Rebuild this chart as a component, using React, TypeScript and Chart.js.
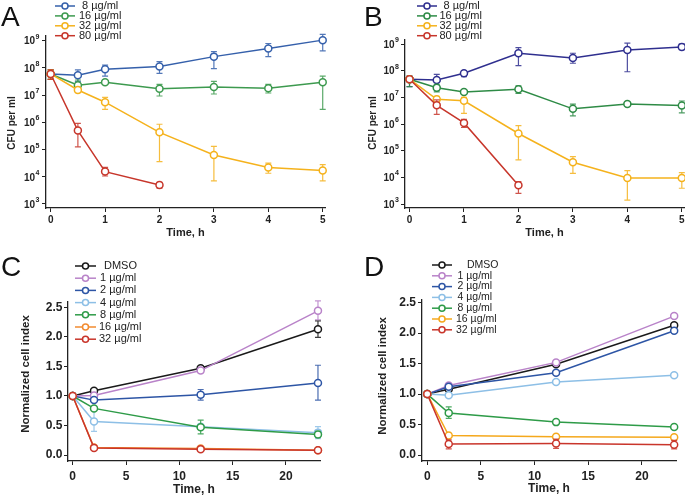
import React, { useEffect, useRef } from 'react';
import { Chart, registerables } from 'chart.js';
Chart.register(...registerables);

const FONT = "'Liberation Sans', Arial, sans-serif";
const INK = '#222';

// ---------- Panel A (CFU per ml, log) ----------
const hoursAB = [0, 0.5, 1, 2, 3, 4, 5];
const hoursRed = [0, 0.5, 1, 2];
const labelsAB = ['8 µg/ml', '16 µg/ml', '32 µg/ml', '80 µg/ml'];
const logTicks = [1e3, 1e4, 1e5, 1e6, 1e7, 1e8, 1e9];
const hourTicksAB = [0, 1, 2, 3, 4, 5];

const A_8 = [6.0e7, 5.4e7, 8.9e7, 1.12e8, 2.6e8, 5.2e8, 1.05e9];
const A_8_hi = [8.5e7, 8.5e7, 1.26e8, 1.7e8, 4.0e8, 7.9e8, 1.7e9];
const A_8_lo = [3.8e7, 3.2e7, 5.0e7, 6.3e7, 9.5e7, 2.6e8, 4.2e8];
const A_16 = [6.0e7, 2.3e7, 3.0e7, 1.7e7, 2.0e7, 1.8e7, 3.0e7];
const A_16_hi = [8.5e7, 3.6e7, 3.3e7, 2.5e7, 3.2e7, 2.5e7, 5.0e7];
const A_16_lo = [3.8e7, 1.5e7, 2.7e7, 9.3e6, 1.1e7, 1.2e7, 3.0e6];
const A_32 = [6.0e7, 1.55e7, 5.5e6, 4.3e5, 6.3e4, 2.2e4, 1.7e4];
const A_32_hi = [8.5e7, 1.95e7, 8.3e6, 8.5e5, 1.3e5, 3.2e4, 2.8e4];
const A_32_lo = [3.8e7, 1.23e7, 3.0e6, 3.6e4, 7.1e3, 1.35e4, 7.1e3];
const A_80 = [6.0e7, 5.0e5, 1.55e4, 5.0e3];
const A_80_hi = [8.5e7, 9.1e5, 2.2e4, 6.2e3];
const A_80_lo = [3.8e7, 1.26e5, 1.07e4, 3.8e3];

// ---------- Panel B (CFU per ml, log) ----------
const B_8 = [4.8e7, 4.5e7, 8.0e7, 4.5e8, 3.0e8, 6.0e8, 7.8e8];
const B_8_hi = [6.3e7, 7.3e7, 1.0e8, 7.3e8, 4.5e8, 1.07e9, 1.0e9];
const B_8_lo = [2.5e7, 2.6e7, 6.0e7, 1.55e8, 1.9e8, 9.1e7, 6.2e8];
const B_16 = [4.8e7, 2.3e7, 1.6e7, 2.0e7, 3.7e6, 5.6e6, 4.9e6];
const B_16_hi = [6.3e7, 3.1e7, 1.8e7, 2.7e7, 5.6e6, 6.5e6, 7.3e6];
const B_16_lo = [2.5e7, 1.6e7, 1.4e7, 1.4e7, 2.0e6, 4.8e6, 2.6e6];
const B_32 = [4.8e7, 8.4e6, 7.4e6, 4.4e5, 3.7e4, 9.5e3, 9.5e3];
const B_32_hi = [6.0e7, 1.1e7, 1.0e7, 8.7e5, 6.0e4, 1.8e4, 1.5e4];
const B_32_lo = [4.0e7, 6.7e6, 2.5e6, 4.5e4, 1.4e4, 1.4e3, 3.9e3];
const B_80 = [4.8e7, 5.0e6, 1.1e6, 5.0e3];
const B_80_hi = [6.0e7, 8.0e6, 1.5e6, 6.9e3];
const B_80_lo = [4.0e7, 2.3e6, 7.4e5, 2.5e3];

// ---------- Panels C and D (normalized cell index) ----------
const hoursCD = [0, 2, 12, 23];
const hourTicksCD = [0, 5, 10, 15, 20];
const indexTicks = [0, 0.5, 1.0, 1.5, 2.0, 2.5];
const labelsCD = ['DMSO', '1 µg/ml', '2 µg/ml', '4 µg/ml', '8 µg/ml', '16 µg/ml', '32 µg/ml'];

const C_dmso = [1.0, 1.09, 1.47, 2.13];
const C_dmso_hi = [null, 1.11, 1.5, 2.27];
const C_dmso_lo = [null, 1.07, 1.44, 1.99];
const C_1 = [1.0, 1.01, 1.43, 2.44];
const C_1_hi = [null, 1.03, 1.47, 2.61];
const C_1_lo = [null, 0.99, 1.39, 2.29];
const C_2 = [1.0, 0.93, 1.02, 1.22];
const C_2_hi = [null, 0.96, 1.11, 1.52];
const C_2_lo = [null, 0.9, 0.93, 0.93];
const C_4 = [1.0, 0.57, 0.48, 0.38];
const C_4_hi = [null, 0.76, 0.52, 0.48];
const C_4_lo = [null, 0.4, 0.44, 0.28];
const C_8 = [1.0, 0.79, 0.47, 0.35];
const C_8_hi = [null, 0.82, 0.59, 0.4];
const C_8_lo = [null, 0.76, 0.36, 0.3];
const C_16 = [1.0, 0.13, 0.11, 0.08];
const C_16_hi = [null, 0.15, 0.14, 0.1];
const C_16_lo = [null, 0.11, 0.08, 0.06];
const C_32 = [1.0, 0.12, 0.1, 0.08];
const C_32_hi = [null, 0.14, 0.12, 0.1];
const C_32_lo = [null, 0.1, 0.08, 0.06];

const D_dmso = [1.0, 1.08, 1.49, 2.13];
const D_dmso_hi = [null, 1.1, 1.51, 2.16];
const D_dmso_lo = [null, 1.06, 1.47, 2.1];
const D_1 = [1.0, 1.14, 1.52, 2.28];
const D_1_hi = [null, 1.16, 1.54, 2.3];
const D_1_lo = [null, 1.12, 1.5, 2.26];
const D_2 = [1.0, 1.12, 1.35, 2.04];
const D_2_hi = [null, 1.14, 1.37, 2.06];
const D_2_lo = [null, 1.1, 1.33, 2.02];
const D_4 = [1.0, 0.98, 1.2, 1.31];
const D_4_hi = [null, 1.0, 1.22, 1.33];
const D_4_lo = [null, 0.96, 1.18, 1.29];
const D_8 = [1.0, 0.69, 0.54, 0.46];
const D_8_hi = [null, 0.79, 0.57, 0.48];
const D_8_lo = [null, 0.6, 0.51, 0.44];
const D_16 = [1.0, 0.32, 0.3, 0.29];
const D_16_hi = [null, 0.34, 0.32, 0.31];
const D_16_lo = [null, 0.3, 0.28, 0.27];
const D_32 = [1.0, 0.18, 0.19, 0.17];
const D_32_hi = [null, 0.25, 0.26, 0.24];
const D_32_lo = [null, 0.1, 0.11, 0.1];

type Series = { label: string; color: string; x: number[]; y: number[]; hi: (number | null)[]; lo: (number | null)[] };

const seriesA: Series[] = [
  { label: labelsAB[0], color: '#3560ab', x: hoursAB, y: A_8, hi: A_8_hi, lo: A_8_lo },
  { label: labelsAB[1], color: '#3d9a4f', x: hoursAB, y: A_16, hi: A_16_hi, lo: A_16_lo },
  { label: labelsAB[2], color: '#f5b21c', x: hoursAB, y: A_32, hi: A_32_hi, lo: A_32_lo },
  { label: labelsAB[3], color: '#c7362b', x: hoursRed, y: A_80, hi: A_80_hi, lo: A_80_lo },
];
const seriesB: Series[] = [
  { label: labelsAB[0], color: '#2f2f8f', x: hoursAB, y: B_8, hi: B_8_hi, lo: B_8_lo },
  { label: labelsAB[1], color: '#2e8b46', x: hoursAB, y: B_16, hi: B_16_hi, lo: B_16_lo },
  { label: labelsAB[2], color: '#f5b21c', x: hoursAB, y: B_32, hi: B_32_hi, lo: B_32_lo },
  { label: labelsAB[3], color: '#c7362b', x: hoursRed, y: B_80, hi: B_80_hi, lo: B_80_lo },
];
const colorsC = ['#1a1a1a', '#b983c9', '#2d55a5', '#8dbfe6', '#2e9b48', '#f28b30', '#c9352b'];
const colorsD = ['#1a1a1a', '#b983c9', '#2d55a5', '#8dbfe6', '#2e9b48', '#f5a81c', '#c9352b'];
const seriesC: Series[] = [
  [C_dmso, C_dmso_hi, C_dmso_lo], [C_1, C_1_hi, C_1_lo], [C_2, C_2_hi, C_2_lo], [C_4, C_4_hi, C_4_lo],
  [C_8, C_8_hi, C_8_lo], [C_16, C_16_hi, C_16_lo], [C_32, C_32_hi, C_32_lo],
].map((d: any, i) => ({ label: labelsCD[i], color: colorsC[i], x: hoursCD, y: d[0], hi: d[1], lo: d[2] }));
const seriesD: Series[] = [
  [D_dmso, D_dmso_hi, D_dmso_lo], [D_1, D_1_hi, D_1_lo], [D_2, D_2_hi, D_2_lo], [D_4, D_4_hi, D_4_lo],
  [D_8, D_8_hi, D_8_lo], [D_16, D_16_hi, D_16_lo], [D_32, D_32_hi, D_32_lo],
].map((d: any, i) => ({ label: labelsCD[i], color: colorsD[i], x: hoursCD, y: d[0], hi: d[1], lo: d[2] }));

const errorBarPlugin = {
  id: 'errBars',
  beforeDatasetDraw(chart: any, args: any) {
    const ds: any = chart.data.datasets[args.index];
    const ys = chart.scales.y;
    const ctx = chart.ctx;
    ctx.save();
    ctx.strokeStyle = ds.borderColor;
    ctx.globalAlpha = 0.85;
    ctx.lineWidth = 1.2;
    args.meta.data.forEach((pt: any, i: number) => {
      const hi = ds.errHi?.[i];
      const lo = ds.errLo?.[i];
      if (hi == null || lo == null) return;
      const x = pt.x;
      const y1 = ys.getPixelForValue(hi);
      const y2 = ys.getPixelForValue(lo);
      ctx.beginPath();
      ctx.moveTo(x, y1); ctx.lineTo(x, y2);
      ctx.moveTo(x - 3, y1); ctx.lineTo(x + 3, y1);
      ctx.moveTo(x - 3, y2); ctx.lineTo(x + 3, y2);
      ctx.stroke();
    });
    ctx.restore();
  },
};

type Legend = { x1: number; x2: number; tx: number; y0: number; dy: number; size: number; indents: number[] };
type Panel = {
  left: number; top: number; width: number; height: number; log: boolean; series: Series[];
  xMin: number; xMax: number; xTicks: number[]; yMin: number; yMax: number; yTicks: number[];
  padTop: number; padRight: number; yWidth: number; xHeight: number;
  yTitle: string; yTitleSize: number; yTitleX: number; yTitleY: number; xTitleSize: number; xTitlePad: number;
  tickSize: number; xLabelOffset: number; yTickPad: number; legend: Legend;
};

const makeOverlayPlugin = (p: Panel) => ({
  id: 'overlay',
  afterDraw(chart: any) {
    const ctx = chart.ctx;
    const L = p.legend;
    ctx.save();
    // legend
    ctx.font = `${L.size}px ${FONT}`;
    ctx.textBaseline = 'middle';
    ctx.textAlign = 'left';
    chart.data.datasets.forEach((ds: any, i: number) => {
      const y = L.y0 + i * L.dy;
      ctx.strokeStyle = ds.borderColor;
      ctx.lineWidth = 1.5;
      ctx.beginPath(); ctx.moveTo(L.x1, y); ctx.lineTo(L.x2, y); ctx.stroke();
      ctx.beginPath(); ctx.arc((L.x1 + L.x2) / 2, y, 3, 0, Math.PI * 2);
      ctx.fillStyle = '#fff'; ctx.fill(); ctx.stroke();
      ctx.fillStyle = INK;
      ctx.fillText(ds.label, L.tx + (L.indents[i] || 0), y);
    });
    // y title
    ctx.save();
    ctx.translate(p.yTitleX, p.yTitleY);
    ctx.rotate(-Math.PI / 2);
    ctx.textAlign = 'center';
    ctx.textBaseline = 'middle';
    ctx.font = `bold ${p.yTitleSize}px ${FONT}`;
    ctx.fillStyle = INK;
    ctx.fillText(p.yTitle, 0, 0);
    ctx.restore();
    // x tick labels
    const xs = chart.scales.x;
    ctx.fillStyle = INK;
    ctx.textAlign = 'center';
    ctx.textBaseline = 'middle';
    ctx.font = `bold ${p.tickSize}px ${FONT}`;
    p.xTicks.forEach((v) => {
      ctx.fillText(String(v), xs.getPixelForValue(v), chart.chartArea.bottom + p.xLabelOffset);
    });
    // log tick labels: 10 with superscript exponent
    if (p.log) {
      const ys = chart.scales.y;
      const right = chart.chartArea.left - 4 - p.yTickPad;
      ctx.textAlign = 'right';
      p.yTicks.forEach((v) => {
        const y = ys.getPixelForValue(v);
        const e = String(Math.round(Math.log10(v)));
        ctx.font = `bold 7px ${FONT}`;
        const ew = ctx.measureText(e).width;
        ctx.fillText(e, right, y - 4);
        ctx.font = `bold ${p.tickSize}px ${FONT}`;
        ctx.fillText('10', right - ew - 0.5, y + 1);
      });
    }
    ctx.restore();
  },
});

const panels: Panel[] = [
  {
    left: 0, top: 0, width: 340, height: 250, log: true, series: seriesA,
    xMin: -0.086, xMax: 5.042, xTicks: hourTicksAB, yMin: Math.pow(10, 2.853), yMax: Math.pow(10, 9.173), yTicks: logTicks,
    padTop: 36, padRight: 15, yWidth: 46, xHeight: 42,
    yTitle: 'CFU per ml', yTitleSize: 10, yTitleX: 12.7, yTitleY: 123, xTitleSize: 11, xTitlePad: 10,
    tickSize: 10, xLabelOffset: 12, yTickPad: 2.5,
    legend: { x1: 55, x2: 75, tx: 79, y0: 6, dy: 9.9, size: 11, indents: [3, 0, 0, 0] },
  },
  {
    left: 340, top: 0, width: 345, height: 250, log: true, series: seriesB,
    xMin: -0.083, xMax: 5.04, xTicks: hourTicksAB, yMin: Math.pow(10, 2.85), yMax: Math.pow(10, 9.15), yTicks: logTicks,
    padTop: 40, padRight: 1, yWidth: 65, xHeight: 42,
    yTitle: 'CFU per ml', yTitleSize: 10, yTitleX: 33, yTitleY: 123, xTitleSize: 11, xTitlePad: 10,
    tickSize: 10, xLabelOffset: 12, yTickPad: 2,
    legend: { x1: 77, x2: 97, tx: 99.5, y0: 6, dy: 9.9, size: 11, indents: [4, 0, 0, 0] },
  },
  {
    left: 0, top: 250, width: 340, height: 246, log: false, series: seriesC,
    xMin: -0.44, xMax: 23.19, xTicks: hourTicksCD, yMin: -0.1, yMax: 2.59, yTicks: indexTicks,
    padTop: 52, padRight: 20, yWidth: 68, xHeight: 35,
    yTitle: 'Normalized cell index', yTitleSize: 11.5, yTitleX: 26, yTitleY: 124, xTitleSize: 12, xTitlePad: -1,
    tickSize: 12, xLabelOffset: 16, yTickPad: 1.5,
    legend: { x1: 75, x2: 96, tx: 99, y0: 16, dy: 12.2, size: 11, indents: [5, 1, 1, 1, 1, 0, 0] },
  },
  {
    left: 340, top: 250, width: 345, height: 246, log: false, series: seriesD,
    xMin: -0.49, xMax: 23.17, xTicks: hourTicksCD, yMin: -0.098, yMax: 2.544, yTicks: indexTicks,
    padTop: 50, padRight: 9, yWidth: 82, xHeight: 35,
    yTitle: 'Normalized cell index', yTitleSize: 11.5, yTitleX: 42.7, yTitleY: 126, xTitleSize: 12, xTitlePad: 0,
    tickSize: 12, xLabelOffset: 16, yTickPad: 2,
    legend: { x1: 92, x2: 112, tx: 116, y0: 15, dy: 10.8, size: 10.5, indents: [11, 1.5, 1.5, 1.5, 1.5, 0, 0] },
  },
];

function PanelChart({ p }: { p: Panel }) {
  const ref = useRef<HTMLCanvasElement | null>(null);
  useEffect(() => {
    if (!ref.current) return;
    const n = p.series.length;
    const bold = (size: number) => ({ family: FONT, size, weight: 'bold' as const });
    const chart = new Chart(ref.current, {
      type: 'line',
      data: {
        datasets: p.series.map((s, i) => ({
          label: s.label,
          data: s.x.map((x, j) => ({ x, y: s.y[j] })),
          borderColor: s.color,
          backgroundColor: '#fff',
          pointBackgroundColor: '#fff',
          pointBorderColor: s.color,
          pointRadius: 3.5,
          pointBorderWidth: 1.5,
          borderWidth: 1.5,
          tension: 0,
          clip: false as any,
          order: n - 1 - i,
          errHi: s.hi,
          errLo: s.lo,
        })) as any,
      },
      options: {
        responsive: false,
        animation: false,
        devicePixelRatio: 1,
        layout: { autoPadding: false, padding: { left: 0, top: p.padTop, right: p.padRight, bottom: 0 } },
        plugins: { legend: { display: false }, tooltip: { enabled: false } },
        scales: {
          x: {
            type: 'linear',
            min: p.xMin,
            max: p.xMax,
            afterBuildTicks: (s: any) => { s.ticks = p.xTicks.map((v) => ({ value: v })); },
            afterFit: (s: any) => { s.height = p.xHeight; s.paddingLeft = 0; s.paddingRight = 0; },
            grid: { display: true, drawOnChartArea: false, drawTicks: true, tickLength: 4, color: INK, lineWidth: 1 },
            border: { display: true, color: INK, width: 1.3 },
            ticks: { font: bold(p.tickSize), color: 'rgba(0,0,0,0)', padding: 3, maxRotation: 0, autoSkip: false, callback: (v: any) => String(v) },
            title: { display: true, text: 'Time, h', font: bold(p.xTitleSize), color: INK, padding: { top: 0, bottom: p.xTitlePad } },
          },
          y: {
            type: p.log ? 'logarithmic' : 'linear',
            min: p.yMin,
            max: p.yMax,
            afterBuildTicks: (s: any) => { s.ticks = p.yTicks.map((v) => ({ value: v })); },
            afterFit: (s: any) => { s.width = p.yWidth; s.paddingTop = 0; s.paddingBottom = 0; },
            grid: { display: true, drawOnChartArea: false, drawTicks: true, tickLength: 4, color: INK, lineWidth: 1 },
            border: { display: true, color: INK, width: 1.3 },
            ticks: {
              font: bold(p.tickSize), color: p.log ? 'rgba(0,0,0,0)' : INK, padding: p.yTickPad, autoSkip: false,
              callback: (v: any) => (p.log ? '10' : Number(v).toFixed(1)),
            },
            title: { display: false },
          },
        } as any,
      },
      plugins: [errorBarPlugin, makeOverlayPlugin(p)],
    });
    return () => chart.destroy();
  }, [p]);
  return (
    <canvas
      ref={ref}
      width={p.width}
      height={p.height}
      style={{ position: 'absolute', left: p.left, top: p.top, width: p.width, height: p.height }}
    />
  );
}

const letterStyle = (left: number, top: number): React.CSSProperties => ({
  position: 'absolute', left, top, fontFamily: FONT, fontSize: 28, lineHeight: '28px', color: '#111', margin: 0,
});

export default function App() {
  return (
    <div style={{ position: 'fixed', left: 0, top: 0, width: 685, height: 496, background: '#fff', overflow: 'hidden' }}>
      {panels.map((p, i) => <PanelChart key={i} p={p} />)}
      <div style={letterStyle(1, 3)}>A</div>
      <div style={letterStyle(364, 3)}>B</div>
      <div style={letterStyle(1, 253)}>C</div>
      <div style={letterStyle(364, 253)}>D</div>
    </div>
  );
}
